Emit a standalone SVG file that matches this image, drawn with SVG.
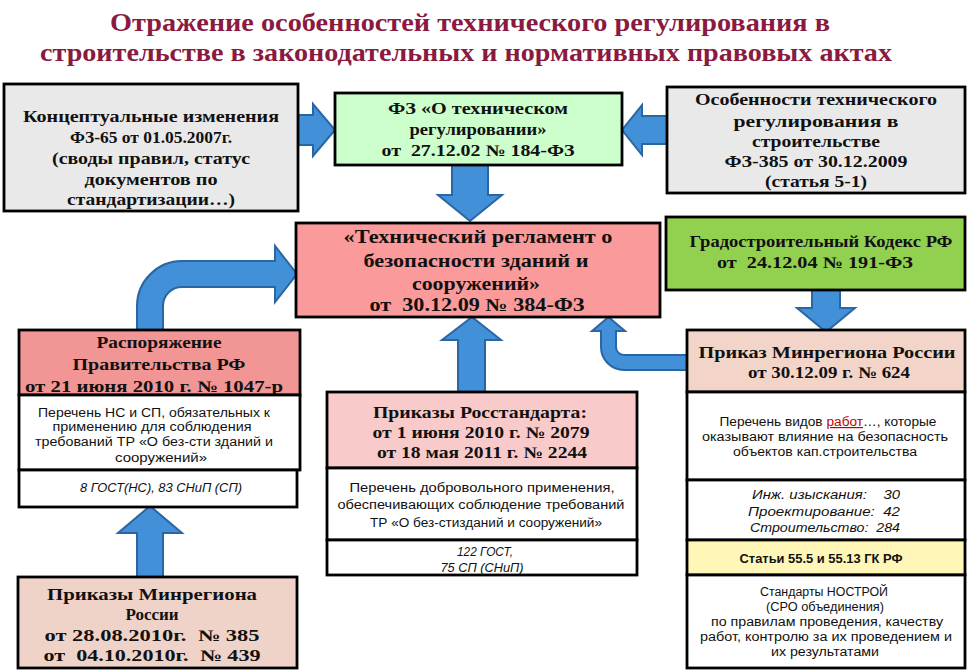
<svg xmlns="http://www.w3.org/2000/svg" width="968" height="671" viewBox="0 0 968 671">
<style>
.bx{stroke:#000;stroke-width:2.8}
.t{font-family:"Liberation Serif","Times New Roman",serif;font-weight:bold;font-size:16px;fill:#111;text-anchor:middle;white-space:pre}
.tl{font-size:18px}
.s{font-family:"Liberation Sans",Arial,sans-serif;font-size:12px;fill:#111;text-anchor:middle;white-space:pre}
.i{font-style:italic}
.ttl{font-family:"Liberation Serif","Times New Roman",serif;font-weight:bold;font-size:26px;fill:#8a1a40;text-anchor:middle}
.ar{fill:#4190d8;stroke:#2a66a3;stroke-width:2;stroke-linejoin:miter}
</style>
<rect width="968" height="671" fill="#fff"/>
<g id="title">
<text class="ttl" x="470" y="31" textLength="720" lengthAdjust="spacingAndGlyphs">Отражение особенностей технического регулирования в</text>
<text class="ttl" x="466" y="61" textLength="852" lengthAdjust="spacingAndGlyphs">строительстве в законодательных и нормативных правовых актах</text>
</g>
<g id="connectors">
<path class="ar" d="M298,115 L313,115 L313,104 L335,130 L313,156 L313,145 L298,145 Z"/>
<path class="ar" d="M667,116 L642,116 L642,105 L622,130 L642,155 L642,144 L667,144 Z"/>
<path class="ar" d="M452,165 L488,165 L488,195 L502,195 L470,221 L438,195 L452,195 Z"/>
<path class="ar" d="M812,290 L840,290 L840,308 L855,308 L826,332 L797,308 L812,308 Z"/>
<path class="ar" d="M458,392 L458,340 L442,340 L472,317 L501,340 L485,340 L485,392 Z"/>
<path class="ar" d="M137,577 L137,533 L118,533 L150,506 L182,533 L163,533 L163,577 Z"/>
<path class="ar" d="M137,330 L137,306 A45,45 0 0 1 182,261 L275,261 L275,246 L297,274 L275,302 L275,287 L182,287 A19,19 0 0 0 163,306 L163,330 Z"/>
<path class="ar" d="M601,331 L592,331 L608.5,317 L625,331 L616,331 L616,347 A8,8 0 0 0 624,355 L687,355 L687,370 L624,370 A23,23 0 0 1 601,347 Z"/>
</g>
<g id="n-fz65">
<rect class="bx" x="4" y="84" width="294" height="127" fill="#e9e9e9"/>
<text class="t" x="151" y="122" textLength="256" lengthAdjust="spacingAndGlyphs">Концептуальные изменения</text>
<text class="t" x="151" y="143" textLength="162" lengthAdjust="spacingAndGlyphs">ФЗ-65 от 01.05.2007г.</text>
<text class="t" x="151" y="164" textLength="198" lengthAdjust="spacingAndGlyphs">(своды правил, статус</text>
<text class="t" x="151" y="185" textLength="133" lengthAdjust="spacingAndGlyphs">документов по</text>
<text class="t" x="151" y="205" textLength="168" lengthAdjust="spacingAndGlyphs">стандартизации…)</text>
</g>
<g id="n-fz184">
<rect class="bx" x="335" y="93" width="287" height="72" fill="#ccffcc"/>
<text class="t" x="478" y="114" textLength="180" lengthAdjust="spacingAndGlyphs">ФЗ «О техническом</text>
<text class="t" x="478" y="135" textLength="137" lengthAdjust="spacingAndGlyphs">регулировании»</text>
<text class="t" x="478" y="156" textLength="193" lengthAdjust="spacingAndGlyphs">от  27.12.02 № 184-ФЗ</text>
</g>
<g id="n-fz385">
<rect class="bx" x="667" y="87" width="298" height="106" fill="#e9e9e9"/>
<text class="t" x="816" y="105" textLength="242" lengthAdjust="spacingAndGlyphs">Особенности технического</text>
<text class="t" x="816" y="127" textLength="165" lengthAdjust="spacingAndGlyphs">регулирования в</text>
<text class="t" x="816" y="147" textLength="128" lengthAdjust="spacingAndGlyphs">строительстве</text>
<text class="t" x="816" y="167" textLength="183" lengthAdjust="spacingAndGlyphs">ФЗ-385 от 30.12.2009</text>
<text class="t" x="816" y="187" textLength="102" lengthAdjust="spacingAndGlyphs">(статья 5-1)</text>
</g>
<g id="n-grk">
<rect class="bx" x="666" y="217" width="299" height="73" fill="#92d050"/>
<text class="t" x="821" y="247" textLength="263" lengthAdjust="spacingAndGlyphs">Градостроительный Кодекс РФ</text>
<text class="t" x="815" y="268" textLength="196" lengthAdjust="spacingAndGlyphs">от  24.12.04 № 191-ФЗ</text>
</g>
<g id="n-tr384">
<rect class="bx" x="296" y="223" width="364" height="94" fill="#fb9a9a"/>
<text class="t tl" x="478" y="243" textLength="269" lengthAdjust="spacingAndGlyphs">«Технический регламент о</text>
<text class="t tl" x="476" y="267" textLength="225" lengthAdjust="spacingAndGlyphs">безопасности зданий и</text>
<text class="t tl" x="476" y="290" textLength="128" lengthAdjust="spacingAndGlyphs">сооружений»</text>
<text class="t tl" x="477" y="311" textLength="215" lengthAdjust="spacingAndGlyphs">от  30.12.09 № 384-ФЗ</text>
</g>
<g id="n-r1047">
<rect class="bx" x="19" y="330" width="281" height="65" fill="#f29595"/>
<text class="t" x="159" y="348" textLength="125" lengthAdjust="spacingAndGlyphs">Распоряжение</text>
<text class="t" x="159" y="370" textLength="173" lengthAdjust="spacingAndGlyphs">Правительства РФ</text>
<text class="t" x="154" y="392" textLength="258" lengthAdjust="spacingAndGlyphs">от 21 июня 2010 г. № 1047-р</text>
<rect class="bx" x="19" y="395" width="281" height="75" fill="#fff"/>
<text class="s" x="154" y="417" textLength="232" lengthAdjust="spacingAndGlyphs">Перечень НС и СП, обязательных к</text>
<text class="s" x="152" y="431" textLength="199" lengthAdjust="spacingAndGlyphs">применению для соблюдения</text>
<text class="s" x="154" y="446" textLength="238" lengthAdjust="spacingAndGlyphs">требований ТР «О без-сти зданий и</text>
<text class="s" x="161" y="462" textLength="92" lengthAdjust="spacingAndGlyphs">сооружений»</text>
<rect class="bx" x="19" y="470" width="278" height="37" fill="#fff"/>
<text class="s i" x="161" y="492" textLength="162" lengthAdjust="spacingAndGlyphs">8 ГОСТ(НС), 83 СНиП (СП)</text>
</g>
<g id="n-rst">
<rect class="bx" x="327" y="392" width="310" height="76" fill="#f8caca"/>
<text class="t" x="480" y="418" textLength="214" lengthAdjust="spacingAndGlyphs">Приказы Росстандарта:</text>
<text class="t" x="481" y="438" textLength="217" lengthAdjust="spacingAndGlyphs">от 1 июня 2010 г. № 2079</text>
<text class="t" x="482" y="458" textLength="210" lengthAdjust="spacingAndGlyphs">от 18 мая 2011 г. № 2244</text>
<rect class="bx" x="327" y="468" width="310" height="72" fill="#fff"/>
<text class="s" x="482" y="492" textLength="265" lengthAdjust="spacingAndGlyphs">Перечень добровольного применения,</text>
<text class="s" x="481" y="509" textLength="287" lengthAdjust="spacingAndGlyphs">обеспечивающих соблюдение требований</text>
<text class="s" x="486" y="527" textLength="232" lengthAdjust="spacingAndGlyphs">ТР «О без-стизданий и сооружений»</text>
<rect class="bx" x="327" y="540" width="310" height="35" fill="#fff"/>
<text class="s i" x="485" y="556" textLength="56" lengthAdjust="spacingAndGlyphs">122 ГОСТ,</text>
<text class="s i" x="482" y="572" textLength="83" lengthAdjust="spacingAndGlyphs">75 СП (СНиП)</text>
</g>
<g id="n-mr624">
<rect class="bx" x="687" y="330" width="278" height="62" fill="#f2d5c8"/>
<text class="t" x="827" y="358" textLength="257" lengthAdjust="spacingAndGlyphs">Приказ Минрегиона России</text>
<text class="t" x="829" y="378" textLength="162" lengthAdjust="spacingAndGlyphs">от 30.12.09 г. № 624</text>
<rect class="bx" x="687" y="392" width="278" height="88" fill="#fff"/>
<text class="s" x="828" y="426" textLength="217" lengthAdjust="spacingAndGlyphs">Перечень видов <tspan fill="#c00000" text-decoration="underline">работ</tspan>…, которые</text>
<text class="s" x="825" y="441" textLength="246" lengthAdjust="spacingAndGlyphs">оказывают влияние на безопасность</text>
<text class="s" x="825" y="456" textLength="184" lengthAdjust="spacingAndGlyphs">объектов кап.строительства</text>
<rect class="bx" x="687" y="480" width="278" height="60" fill="#fff"/>
<text class="s i" x="826" y="499" textLength="148" lengthAdjust="spacingAndGlyphs">Инж. изыскания:    30</text>
<text class="s i" x="824" y="516" textLength="152" lengthAdjust="spacingAndGlyphs">Проектирование:  42</text>
<text class="s i" x="825" y="532" textLength="150" lengthAdjust="spacingAndGlyphs">Строительство:  284</text>
<rect class="bx" x="687" y="540" width="278" height="35" fill="#fff6b8"/>
<text class="s" x="821" y="563" textLength="163" lengthAdjust="spacingAndGlyphs" font-weight="bold">Статьи 55.5 и 55.13 ГК РФ</text>
<rect class="bx" x="687" y="575" width="278" height="93" fill="#fff"/>
<text class="s" x="824" y="596" textLength="128" lengthAdjust="spacingAndGlyphs">Стандарты НОСТРОЙ</text>
<text class="s" x="825" y="611" textLength="118" lengthAdjust="spacingAndGlyphs">(СРО объединения)</text>
<text class="s" x="827" y="626" textLength="232" lengthAdjust="spacingAndGlyphs">по правилам проведения, качеству</text>
<text class="s" x="826" y="641" textLength="252" lengthAdjust="spacingAndGlyphs">работ, контролю за их проведением и</text>
<text class="s" x="825" y="656" textLength="108" lengthAdjust="spacingAndGlyphs">их результатами</text>
</g>
<g id="n-mr385">
<rect class="bx" x="18" y="577" width="279" height="91" fill="#f0d3c8"/>
<text class="t" x="152" y="600" textLength="210" lengthAdjust="spacingAndGlyphs">Приказы Минрегиона</text>
<text class="t" x="152" y="620" textLength="53" lengthAdjust="spacingAndGlyphs">России</text>
<text class="t" x="152" y="641" textLength="215" lengthAdjust="spacingAndGlyphs">от 28.08.2010г.  № 385</text>
<text class="t" x="152" y="661" textLength="217" lengthAdjust="spacingAndGlyphs">от  04.10.2010г.  № 439</text>
</g>
</svg>
